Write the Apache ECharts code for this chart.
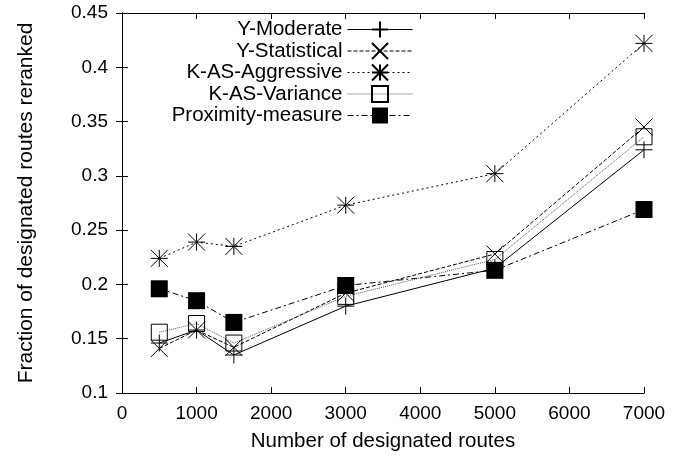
<!DOCTYPE html>
<html>
<head>
<meta charset="utf-8">
<script src="https://cdn.jsdelivr.net/npm/echarts@6/dist/echarts.min.js"></script>
<style>
html, body { margin: 0; padding: 0; background: #fff; }
#chart { width: 688px; height: 461px; }
</style>
</head>
<body>
<div id="chart"></div>
<script>
// x positions (number of designated routes)
const routes = [500, 1000, 1500, 3000, 5000, 7000]

const yModerate = [0.146, 0.158, 0.135, 0.180, 0.215, 0.324]
const yStatistical = [0.141, 0.158, 0.142, 0.192, 0.228, 0.345]
const kasAggressive = [0.224, 0.239, 0.235, 0.273, 0.302, 0.422]
const kasVariance = [0.156, 0.164, 0.146, 0.189, 0.223, 0.336]
const proximity = [0.196, 0.185, 0.165, 0.199, 0.213, 0.269]

const seriesNames = ['Y-Moderate', 'Y-Statistical', 'K-AS-Aggressive', 'K-AS-Variance', 'Proximity-measure']

const FONT = 'Liberation Sans'

const PLUS = 'path://M0,-1L0,1M-1,0L1,0'
const CROSS = 'path://M-1,-1L1,1M-1,1L1,-1'
const STAR = 'path://M0,-1L0,1M-1,0L1,0M-1,-1L1,1M-1,1L1,-1'

function pair(arr) {
    return routes.map((x, i) => [x, arr[i]])
}

function makeSeries(name, values, symbol, dash, opts) {
    return Object.assign({
        name: name,
        type: 'line',
        data: pair(values),
        symbol: symbol,
        symbolSize: 17,
        symbolKeepAspect: true,
        lineStyle: { color: '#000', width: 1, type: dash },
        itemStyle: { color: 'none', borderColor: '#000', borderWidth: 1 },
        emphasis: { disabled: true },
    }, opts || {})
}

const chart = echarts.init(document.getElementById('chart'))

const hiddenAxis = {
    axisLine: { show: true, lineStyle: { color: '#000', width: 1 } },
    axisTick: { show: true, inside: true, length: 6, lineStyle: { color: '#000' } },
    axisLabel: { show: false },
    splitLine: { show: false },
}

const option = {
    animation: false,
    backgroundColor: '#fff',
    grid: { left: 122, right: 44, top: 13, bottom: 68 },
    legend: {
        orient: 'vertical',
        align: 'right',
        right: 275,
        top: 19,
        padding: 0,
        itemWidth: 65,
        itemHeight: 20,
        itemGap: 0.5,
        selectedMode: false,
        lineStyle: { width: 1 },
        textStyle: { fontFamily: FONT, fontSize: 20.5, lineHeight: 20, color: '#000' },
        data: seriesNames,
    },
    xAxis: [
        {
            type: 'value',
            min: 0,
            max: 7000,
            interval: 1000,
            name: 'Number of designated routes',
            nameLocation: 'middle',
            nameGap: 38,
            nameTextStyle: { fontFamily: FONT, fontSize: 20.5, color: '#000' },
            axisLine: { show: true, lineStyle: { color: '#000', width: 1 } },
            axisTick: { show: true, inside: true, length: 6, lineStyle: { color: '#000' } },
            axisLabel: {
                fontFamily: FONT, fontSize: 19, color: '#000', margin: 11,
                formatter: (v) => String(v),
            },
            splitLine: { show: false },
        },
        Object.assign({ type: 'value', position: 'top', min: 0, max: 7000, interval: 1000 }, hiddenAxis),
    ],
    yAxis: [
        {
            type: 'value',
            min: 0.1,
            max: 0.45,
            interval: 0.05,
            name: 'Fraction of designated routes reranked',
            nameLocation: 'middle',
            nameGap: 85,
            nameTextStyle: { fontFamily: FONT, fontSize: 21, color: '#000' },
            axisLine: { show: true, lineStyle: { color: '#000', width: 1 } },
            axisTick: { show: true, inside: true, length: 6, lineStyle: { color: '#000' } },
            axisLabel: { fontFamily: FONT, fontSize: 19, color: '#000', margin: 14 },
            splitLine: { show: false },
        },
        Object.assign({ type: 'value', position: 'right', min: 0.1, max: 0.45, interval: 0.05 }, hiddenAxis),
    ],
    series: [
        makeSeries(seriesNames[0], yModerate, PLUS, 'solid'),
        makeSeries(seriesNames[1], yStatistical, CROSS, [4, 2]),
        makeSeries(seriesNames[2], kasAggressive, STAR, [2, 3]),
        makeSeries(seriesNames[3], kasVariance, 'rect', [1, 1], {
            lineStyle: { color: '#555', width: 1, type: [1, 1] },
            symbolSize: 16,
        }),
        makeSeries(seriesNames[4], proximity, 'rect', [6, 3, 2, 3], {
            itemStyle: { color: '#000', borderColor: '#000', borderWidth: 0 },
            symbolSize: 17,
        }),
    ],
}

chart.setOption(option)
</script>
</body>
</html>
